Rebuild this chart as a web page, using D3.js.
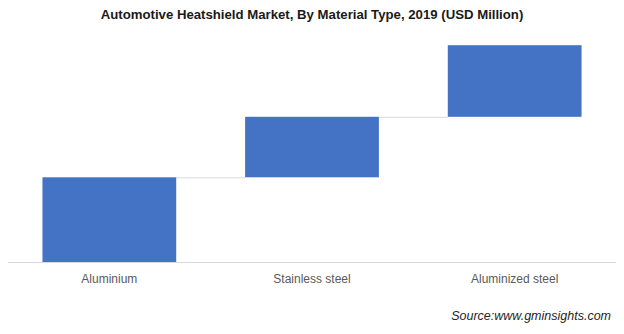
<!DOCTYPE html>
<html>
<head>
<meta charset="utf-8">
<script src="https://cdn.jsdelivr.net/npm/d3@7"></script>
<style>
  body { margin: 0; background: #fff; }
  svg { display: block; font-family: "Liberation Sans", Arial, sans-serif; }
</style>
</head>
<body>
<div id="chart"></div>
<script>
// Market size by material type, USD million (waterfall steps)
const categories = ["Aluminium", "Stainless steel", "Aluminized steel"];
const values = [4200, 3000, 3550];

const width = 624, height = 334;
const margin = { top: 20, right: 8, bottom: 72, left: 8 };

const svg = d3.select("#chart").append("svg")
  .attr("width", width)
  .attr("height", height);

// Title
svg.append("text")
  .attr("x", width / 2)
  .attr("y", 19)
  .attr("text-anchor", "middle")
  .style("font-size", "13.2px")
  .style("font-weight", "bold")
  .style("fill", "#1a1a1a")
  .text("Automotive Heatshield Market, By Material Type, 2019 (USD Million)");

// Build running totals for the waterfall
let run = 0;
const steps = categories.map((c, i) => {
  const start = run;
  run += values[i];
  return { name: c, start: start, end: run };
});

const x = d3.scaleBand()
  .domain(categories)
  .range([margin.left, width - margin.right])
  .paddingInner(0.34)
  .paddingOuter(0.17);

const y = d3.scaleLinear()
  .domain([0, 12000])
  .range([height - margin.bottom, margin.top]);

const g = svg.append("g");

// Connector lines between consecutive bars
g.selectAll("line.conn")
  .data(steps.slice(0, -1))
  .enter()
  .append("line")
  .attr("class", "conn")
  .attr("x1", (d) => x(d.name) + x.bandwidth())
  .attr("x2", (d, i) => x(categories[i + 1]))
  .attr("y1", (d) => y(d.end) + 0.5)
  .attr("y2", (d) => y(d.end) + 0.5)
  .attr("stroke", "#d9d9d9")
  .attr("stroke-width", 1);

// Baseline
svg.append("line")
  .attr("x1", margin.left)
  .attr("x2", width - margin.right)
  .attr("y1", y(0) + 0.5)
  .attr("y2", y(0) + 0.5)
  .attr("stroke", "#d9d9d9")
  .attr("stroke-width", 1);

// Floating bars
g.selectAll("rect")
  .data(steps)
  .enter()
  .append("rect")
  .attr("x", (d) => x(d.name))
  .attr("y", (d) => y(d.end))
  .attr("width", x.bandwidth())
  .attr("height", (d) => y(d.start) - y(d.end))
  .attr("fill", "#4472c4");

// Category labels
const xAxis = svg.append("g")
  .attr("transform", `translate(0, ${y(0)})`)
  .call(d3.axisBottom(x).tickSize(0).tickPadding(12));
xAxis.select(".domain").remove();
xAxis.selectAll("text")
  .style("font-size", "12px")
  .style("font-family", "'Liberation Sans', Arial, sans-serif")
  .attr("fill", "#595959");

// Source note
svg.append("text")
  .attr("x", 611)
  .attr("y", 320)
  .attr("text-anchor", "end")
  .style("font-size", "12.5px")
  .style("font-style", "italic")
  .style("fill", "#262626")
  .text("Source:www.gminsights.com");
</script>
</body>
</html>
